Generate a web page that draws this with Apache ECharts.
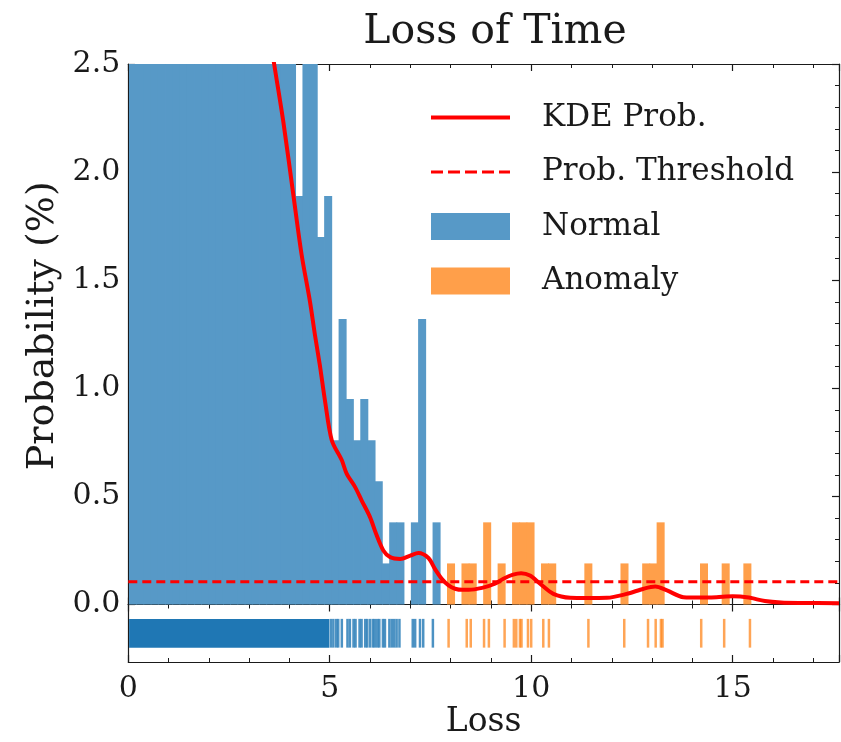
<!DOCTYPE html>
<html>
<head>
<meta charset="utf-8">
<title>Loss of Time</title>
<script src="https://cdn.jsdelivr.net/npm/echarts@6/dist/echarts.min.js"></script>
<style>
html, body { margin: 0; padding: 0; background: #fff; }
#main { width: 841px; height: 742px; }
</style>
</head>
<body>
<div id="main"></div>
<script>
// histogram bins (one grid shared by both classes)
var binStart = 0.027;
var binWidth = 0.1794;
// Normal heights, bins 0..43 (bins left of ~4.2 run past the 2.5 limit)
var normalHist = [8.9, 8.5, 8.1, 7.6, 7.2, 6.8, 6.4, 6.0, 5.7, 5.3,
                  5.0, 4.7, 4.4, 4.1, 3.8, 3.6, 3.3, 3.1, 2.9, 2.8,
                  2.65, 2.84, 2.65, 1.89, 2.65, 2.65, 1.70, 1.89, 0.76, 1.32,
                  0.95, 0.76, 0.95, 0.76, 0.57, 0.19, 0.38, 0.38, 0, 0.38,
                  1.32, 0, 0.38, 0];
// Anomaly heights, bins 44..85
var anomalyFirstBin = 44;
var anomalyHist = [0.19, 0, 0.19, 0.19, 0, 0.38, 0, 0.19, 0, 0.38,
                   0.38, 0.38, 0, 0.19, 0.19, 0, 0, 0, 0, 0.19,
                   0, 0, 0, 0, 0.19, 0, 0, 0.19, 0.19, 0.38,
                   0, 0, 0, 0, 0, 0.19, 0, 0, 0.19, 0,
                   0, 0.19];

// KDE curve
var kdeX = [3.0, 3.3, 3.62, 3.85, 4.10, 4.30, 4.51, 4.63, 4.76, 4.88,
            5.05, 5.30, 5.42, 5.63, 5.79, 6.00, 6.15, 6.33, 6.50, 6.75,
            7.00, 7.20, 7.45, 7.61, 7.78, 7.95, 8.11, 8.30, 8.45, 8.78,
            9.10, 9.31, 9.55, 9.75, 9.97, 10.22, 10.55, 10.97, 11.38, 11.88,
            12.37, 12.79, 13.08, 13.37, 13.78, 14.20, 14.60, 15.00, 15.40, 15.80,
            16.20, 16.70, 17.64];
var kdeY = [3.3, 2.88, 2.5, 2.23, 1.89, 1.62, 1.40, 1.25, 1.10, 0.945,
            0.76, 0.667, 0.605, 0.543, 0.482, 0.404, 0.327, 0.25, 0.219, 0.211,
            0.226, 0.238, 0.215, 0.165, 0.119, 0.088, 0.073, 0.068, 0.068, 0.077,
            0.096, 0.119, 0.138, 0.145, 0.134, 0.096, 0.049, 0.031, 0.030, 0.031,
            0.049, 0.073, 0.083, 0.065, 0.034, 0.032, 0.034, 0.038, 0.032, 0.016,
            0.009, 0.007, 0.006];
var threshold = 0.105;

// rug: the normal losses below ~5 are so dense they read as one band
var normalRugBand = [0.02, 4.99];
var normalRug = [5.03, 5.09, 5.16, 5.21, 5.30, 5.44, 5.50, 5.59, 5.64, 5.74,
                 5.79, 5.88, 5.93, 6.00, 6.07, 6.12, 6.18, 6.23, 6.32, 6.37,
                 6.48, 6.54, 6.60, 6.66, 6.73, 7.06, 7.12, 7.24, 7.32, 7.56];
var anomalyRug = [7.95, 8.40, 8.50, 8.83, 8.95, 9.34, 9.57, 9.63, 9.72, 9.76,
                  9.92, 10.00, 10.30, 10.44, 11.42, 12.31, 12.90, 13.09, 13.22, 13.26,
                  14.22, 14.79, 15.43];

var xMax = 17.64;
var FONT = '"DejaVu Serif", "Liberation Serif", serif';
var INK = '#1a1a1a';

function histData(arr, first) {
	var out = [];
	for (var i = 0; i < arr.length; i++) {
		if (arr[i] > 0) {
			var k = first + i;
			out.push([binStart + k * binWidth, binStart + (k + 1) * binWidth, arr[i]]);
		}
	}
	return out;
}

function histItem(params, api) {
	var p0 = api.coord([api.value(0), api.value(2)]);
	var p1 = api.coord([api.value(1), 0]);
	var cs = params.coordSys;
	// widen a little so neighbouring bins do not leave hairline gaps
	var rect = echarts.graphic.clipRectByRect(
		{x: p0[0] - 0.4, y: p0[1], width: p1[0] - p0[0] + 0.8, height: p1[1] - p0[1]},
		{x: cs.x, y: cs.y, width: cs.width, height: cs.height});
	if (!rect) return;
	return {type: 'rect', shape: rect, style: api.style()};
}

function rugItem(color, width, opacity) {
	return function(params, api) {
		var a = api.coord([api.value(0), 0.25]);
		var b = api.coord([api.value(0), 0.75]);
		return {type: 'line', shape: {x1: a[0], y1: a[1], x2: b[0], y2: b[1]},
			style: {stroke: color, lineWidth: width, opacity: opacity}};
	};
}

function bandItem(params, api) {
	var a = api.coord([api.value(0), 0.75]);
	var b = api.coord([api.value(1), 0.25]);
	return {type: 'rect', shape: {x: a[0], y: a[1], width: b[0] - a[0], height: b[1] - a[1]},
		style: {fill: '#1f77b4'}};
}

function xAx(grid, pos, labels) {
	return {
		type: 'value', gridIndex: grid, position: pos, min: 0, max: xMax, interval: 5,
		axisLine: {onZero: false, lineStyle: {color: INK, width: 1.2}},
		axisTick: {show: true, inside: true, length: 7, lineStyle: {color: INK, width: 1.2}},
		minorTick: {show: true, splitNumber: 5, length: 4, lineStyle: {color: INK, width: 1}},
		axisLabel: {show: labels, color: INK, fontFamily: FONT, fontSize: 30, margin: 12,
			showMaxLabel: false},
		splitLine: {show: false}
	};
}

var myChart = echarts.init(document.getElementById('main'));
var option = {
	backgroundColor: '#fff',
	animation: false,
	title: {
		text: 'Loss of Time', left: 490, top: 7, textAlign: 'center',
		textStyle: {fontFamily: FONT, fontSize: 41, fontWeight: 'normal', color: INK}
	},
	legend: {
		orient: 'vertical', left: 429, top: 102, padding: 0,
		itemWidth: 79, itemHeight: 27, itemGap: 23.5,
		textStyle: {fontFamily: FONT, fontSize: 31, color: INK, padding: [0, 0, 0, 27]},
		data: [{name: 'KDE Prob.', itemStyle: {opacity: 0}, lineStyle: {width: 4}},
			{name: 'Prob. Threshold', itemStyle: {opacity: 0}, lineStyle: {width: 3, type: [12, 5]}},
			{name: 'Normal', icon: 'rect'}, {name: 'Anomaly', icon: 'rect'}]
	},
	grid: [
		{left: 128.3, top: 64, width: 710.7, height: 540.5},
		{left: 128.3, top: 604.5, width: 710.7, height: 57.5}
	],
	xAxis: [
		xAx(0, 'bottom', false),
		xAx(0, 'top', false),
		Object.assign(xAx(1, 'bottom', true), {
			name: 'Loss', nameLocation: 'middle', nameGap: 44,
			nameTextStyle: {fontFamily: FONT, fontSize: 33, color: INK}
		}),
		xAx(1, 'top', false)
	],
	yAxis: [
		{
			type: 'value', gridIndex: 0, position: 'left', min: 0, max: 2.5, interval: 0.5,
			name: 'Probability (%)', nameLocation: 'middle', nameGap: 64,
			nameTextStyle: {fontFamily: FONT, fontSize: 38, color: INK, padding: [0, 0, 0, 17]},
			axisLine: {onZero: false, lineStyle: {color: INK, width: 1.2}},
			axisTick: {inside: true, length: 7, lineStyle: {color: INK, width: 1.2}},
			minorTick: {show: true, splitNumber: 5, length: 4, lineStyle: {color: INK, width: 1}},
			axisLabel: {color: INK, fontFamily: FONT, fontSize: 30, margin: 8,
				formatter: function(v) { return v.toFixed(1); }},
			splitLine: {show: false}
		},
		{
			type: 'value', gridIndex: 0, position: 'right', min: 0, max: 2.5, interval: 0.5,
			axisLine: {onZero: false, lineStyle: {color: INK, width: 1.2}},
			axisTick: {inside: true, length: 7, lineStyle: {color: INK, width: 1.2}},
			minorTick: {show: true, splitNumber: 5, length: 4, lineStyle: {color: INK, width: 1}},
			axisLabel: {show: false},
			splitLine: {show: false}
		},
		{
			type: 'value', gridIndex: 1, position: 'left', min: 0, max: 1,
			axisLine: {onZero: false, lineStyle: {color: INK, width: 1.2}},
			axisTick: {show: false}, axisLabel: {show: false}, splitLine: {show: false}
		},
		{
			type: 'value', gridIndex: 1, position: 'right', min: 0, max: 1,
			axisLine: {onZero: false, lineStyle: {color: INK, width: 1.2}},
			axisTick: {show: false}, axisLabel: {show: false}, splitLine: {show: false}
		}
	],
	series: [
		{
			name: 'Normal', type: 'custom', xAxisIndex: 0, yAxisIndex: 0,
			renderItem: histItem, encode: {x: [0, 1], y: 2},
			itemStyle: {color: '#5799c7'},
			data: histData(normalHist, 0), z: 1
		},
		{
			name: 'Anomaly', type: 'custom', xAxisIndex: 0, yAxisIndex: 0,
			renderItem: histItem, encode: {x: [0, 1], y: 2},
			itemStyle: {color: '#ff9f4a'},
			data: histData(anomalyHist, anomalyFirstBin), z: 1
		},
		{
			name: 'Prob. Threshold', type: 'line', xAxisIndex: 0, yAxisIndex: 0,
			showSymbol: false, symbol: 'none',
			lineStyle: {color: '#ff0000', width: 3, type: [9, 5]},
			itemStyle: {color: '#ff0000'},
			data: [[0, threshold], [xMax, threshold]], z: 3
		},
		{
			name: 'KDE Prob.', type: 'line', xAxisIndex: 0, yAxisIndex: 0,
			showSymbol: false, symbol: 'none', smooth: 0.3, clip: true,
			lineStyle: {color: '#ff0000', width: 4},
			itemStyle: {color: '#ff0000'},
			data: kdeX.map(function(x, i) { return [x, kdeY[i]]; }), z: 4
		},
		{
			type: 'custom', xAxisIndex: 2, yAxisIndex: 2,
			renderItem: bandItem, encode: {x: [0, 1]},
			data: [normalRugBand]
		},
		{
			type: 'custom', xAxisIndex: 2, yAxisIndex: 2,
			renderItem: rugItem('#1f77b4', 2.5, 0.8), encode: {x: 0},
			data: normalRug.map(function(x) { return [x]; })
		},
		{
			type: 'custom', xAxisIndex: 2, yAxisIndex: 2,
			renderItem: rugItem('#ff7f0e', 2.5, 0.7), encode: {x: 0},
			data: anomalyRug.map(function(x) { return [x]; })
		}
	]
};
myChart.setOption(option);
</script>
</body>
</html>
